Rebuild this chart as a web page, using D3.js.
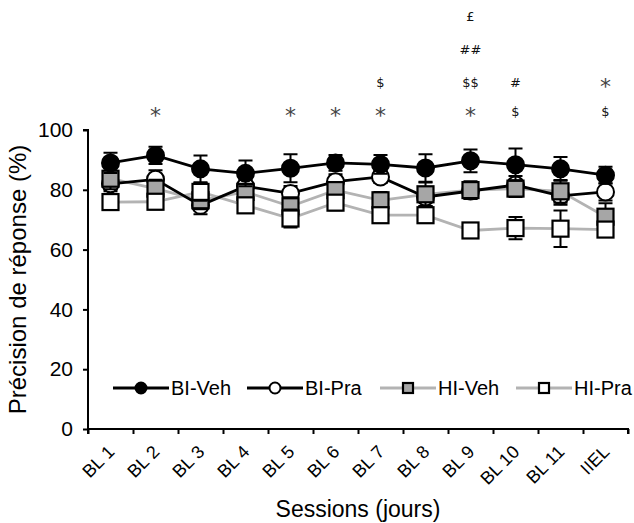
<!DOCTYPE html>
<html>
<head>
<meta charset="utf-8">
<script src="https://cdn.jsdelivr.net/npm/d3@7"></script>
<style>
  html, body { margin: 0; padding: 0; background: #fff; }
  svg { display: block; }
</style>
</head>
<body>
<svg id="chart" width="634" height="523"></svg>
<script>
// ---- data ----
const categories = ["BL 1","BL 2","BL 3","BL 4","BL 5","BL 6","BL 7","BL 8","BL 9","BL 10","BL 11","IIEL"];
const biVeh    = [89.0, 91.5, 87.0, 85.5, 87.2, 89.0, 88.5, 87.3, 89.7, 88.4, 87.0, 84.9];
const biVehErr = [3.4, 2.9, 4.5, 4.3, 4.7, 2.6, 3.1, 4.6, 3.8, 5.4, 4.0, 2.8];
const biPra    = [82.0, 83.5, 74.8, 81.2, 78.8, 82.7, 84.3, 77.6, 79.6, 81.6, 78.0, 79.3];
const biPraErr = [2.5, 3.0, 3.0, 2.5, 2.5, 2.5, 2.0, 3.0, 2.5, 3.0, 3.0, 2.9];
const hiVeh    = [83.7, 80.4, 76.5, 79.3, 74.5, 79.9, 76.5, 78.5, 79.9, 80.4, 79.5, 71.0];
const hiVehErr = [3.5, 3.0, 3.0, 2.5, 3.0, 2.5, 2.8, 3.9, 3.0, 2.8, 3.8, 4.5];
const hiPra    = [75.9, 76.0, 79.3, 74.8, 70.4, 75.7, 71.5, 71.5, 66.4, 67.2, 67.0, 66.7];
const hiPraErr = [2.5, 2.5, 3.0, 2.5, 3.0, 2.5, 2.5, 2.0, 1.5, 3.7, 6.1, 2.0];
const seriesNames = ["BI-Veh","BI-Pra","HI-Veh","HI-Pra"];
const yTicks = [0, 20, 40, 60, 80, 100];

const annotCategories = ["BL 2","BL 5","BL 6","BL 7","BL 7","BL 9","BL 9","BL 9","BL 9","BL 10","BL 10","IIEL","IIEL"];
const annotLevels     = [0, 0, 0, 0, 1, 0, 1, 2, 3, 0, 1, 0, 1];
const annotTexts      = ["*","*","*","*","$","*","$$","##","£","$","#","$","*"];

// ---- layout ----
const svg = d3.select("#chart");
const X0 = 88, X1 = 628, Y0 = 429, Y1 = 130;
const font = "'Liberation Sans', Arial, sans-serif";

const x = d3.scaleBand().domain(categories).range([X0, X1]).padding(0);
const xb = d3.scaleLinear().domain([0, categories.length]).range([X0, X1]);
const y = d3.scaleLinear().domain([0, 100]).range([Y0, Y1]);
const cx = c => x(c) + x.bandwidth() / 2;

const styles = {
  "BI-Veh": { line: "#000", fill: "#000", shape: "circle" },
  "BI-Pra": { line: "#000", fill: "#fff", shape: "circle" },
  "HI-Veh": { line: "#b3b3b3", fill: "#a6a6a6", shape: "square" },
  "HI-Pra": { line: "#b3b3b3", fill: "#fff", shape: "square" }
};
const seriesData = {
  "BI-Veh": { v: biVeh, e: biVehErr },
  "BI-Pra": { v: biPra, e: biPraErr },
  "HI-Veh": { v: hiVeh, e: hiVehErr },
  "HI-Pra": { v: hiPra, e: hiPraErr }
};

// axes
const yAxis = d3.axisLeft(y).tickValues(yTicks).tickSize(5).tickPadding(10).tickFormat(d3.format("d"));
const gy = svg.append("g").attr("transform", `translate(${X0},0)`).call(yAxis);
gy.select(".domain").attr("d", `M-5,${Y1}H0V${Y0}`).attr("stroke", "#000").attr("stroke-width", 2);
gy.selectAll(".tick line").attr("stroke-width", 2);
gy.selectAll(".tick text").attr("font-family", font).attr("font-size", 21).attr("fill", "#000");

const gxTicks = svg.append("g").attr("transform", `translate(0,${Y0})`)
  .call(d3.axisBottom(xb).tickValues(d3.range(0, categories.length + 1)).tickSize(5).tickFormat(""));
gxTicks.select(".domain").attr("d", `M${X0},5V0H${X1}V5`).attr("stroke", "#000").attr("stroke-width", 2);
gxTicks.selectAll(".tick line").attr("stroke-width", 2);

// rotated category labels
svg.append("g").selectAll("text").data(categories).join("text")
  .attr("transform", c => `translate(${cx(c) + 5},${Y0 + 24}) rotate(-45)`)
  .attr("text-anchor", "end")
  .attr("font-family", font).attr("font-size", 18).attr("fill", "#000")
  .text(c => c);

// axis titles
svg.append("text").attr("transform", `translate(26,${(Y0 + Y1) / 2}) rotate(-90)`)
  .attr("text-anchor", "middle").attr("font-family", font).attr("font-size", 24)
  .text("Précision de réponse (%)");
svg.append("text").attr("x", (X0 + X1) / 2).attr("y", 517)
  .attr("text-anchor", "middle").attr("font-family", font).attr("font-size", 23)
  .text("Sessions (jours)");

// lines (gray first then black)
const lineGen = d3.line().x((d, i) => cx(categories[i])).y(d => y(d));
["HI-Pra","HI-Veh","BI-Pra","BI-Veh"].forEach(name => {
  svg.append("path").attr("d", lineGen(seriesData[name].v))
    .attr("fill", "none").attr("stroke", styles[name].line).attr("stroke-width", 2.8);
});

// error bars + markers, z-order
const R = 8.5, S = 16;
function marker(g, shape, px, py, r, s, fill) {
  if (shape === "circle") {
    g.append("circle").attr("cx", px).attr("cy", py).attr("r", r)
      .attr("fill", fill).attr("stroke", "#000").attr("stroke-width", 2);
  } else {
    g.append("rect").attr("x", px - s / 2).attr("y", py - s / 2).attr("width", s).attr("height", s)
      .attr("fill", fill).attr("stroke", "#000").attr("stroke-width", 2.2);
  }
}
["BI-Pra","HI-Veh","HI-Pra","BI-Veh"].forEach(name => {
  const g = svg.append("g");
  const d = seriesData[name];
  categories.forEach((c, i) => {
    const px = cx(c), hi = y(d.v[i] + d.e[i]), lo = y(d.v[i] - d.e[i]);
    g.append("path").attr("d", `M${px},${hi}V${lo}M${px - 7},${hi}H${px + 7}M${px - 7},${lo}H${px + 7}`)
      .attr("stroke", "#000").attr("stroke-width", 2).attr("fill", "none");
  });
  categories.forEach((c, i) => marker(g, styles[name].shape, cx(c), y(d.v[i]), R, S, styles[name].fill));
});

// annotations
const rowY = [111, 82, 49, 16];
annotTexts.forEach((t, i) => {
  const isStar = t === "*";
  svg.append("text")
    .attr("x", cx(annotCategories[i]))
    .attr("y", rowY[annotLevels[i]] + (isStar ? 12 : 5))
    .attr("text-anchor", "middle")
    .attr("font-family", "'DejaVu Sans', sans-serif")
    .attr("font-size", isStar ? 22 : 13)
    .attr("fill", isStar ? "#444" : "#111")
    .text(t);
});

// legend
const legendY = 388;
const legendStarts = [113, 247, 380, 516];
seriesNames.forEach((name, i) => {
  const lx = legendStarts[i];
  const g = svg.append("g");
  g.append("line").attr("x1", lx).attr("x2", lx + 56).attr("y1", legendY).attr("y2", legendY)
    .attr("stroke", styles[name].line).attr("stroke-width", 2.8);
  marker(g, styles[name].shape, lx + 28, legendY, 5.5, 10, styles[name].fill);
  g.append("text").attr("x", lx + 58).attr("y", legendY + 7)
    .attr("font-family", font).attr("font-size", 20).text(name);
});
</script>
</body>
</html>
